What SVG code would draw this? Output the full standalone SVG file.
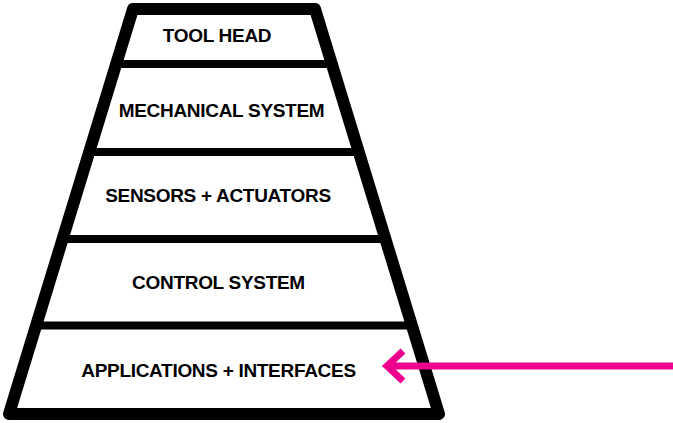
<svg xmlns="http://www.w3.org/2000/svg" width="673" height="423" viewBox="0 0 673 423">
<style>
.frame{fill:#fff;stroke:#000;stroke-width:12;stroke-linejoin:round}
.div{stroke:#000;stroke-width:8;fill:none}
.lbl{font-family:"Liberation Sans",Arial,sans-serif;font-weight:bold;font-size:19px;letter-spacing:-0.3px;fill:#000;text-anchor:middle}
.arr{stroke:#EC008C;stroke-width:7;fill:none}
</style>
<rect width="673" height="423" fill="#fff"/>
<g id="pyramid">
<polygon class="frame" points="133,9 315,9 439,414 9,414"/>
</g>
<g id="dividers">
<line class="div" x1="116" y1="64" x2="332" y2="64"/>
<line class="div" x1="89" y1="152" x2="359" y2="152"/>
<line class="div" x1="62" y1="239" x2="386" y2="239"/>
<line class="div" x1="36" y1="325.5" x2="412" y2="325.5"/>
</g>
<g id="tool-head"><text class="lbl" x="217" y="42">TOOL HEAD</text></g>
<g id="mechanical-system"><text class="lbl" x="221.5" y="117">MECHANICAL SYSTEM</text></g>
<g id="sensors-actuators"><text class="lbl" x="218" y="202">SENSORS + ACTUATORS</text></g>
<g id="control-system"><text class="lbl" x="218.5" y="289">CONTROL SYSTEM</text></g>
<g id="applications-interfaces"><text class="lbl" x="218.5" y="377">APPLICATIONS + INTERFACES</text></g>
<g id="connectors">
<line class="arr" x1="673" y1="366" x2="388" y2="366"/>
<polyline class="arr" points="403,351 387,366 403,381"/>
</g>
</svg>
